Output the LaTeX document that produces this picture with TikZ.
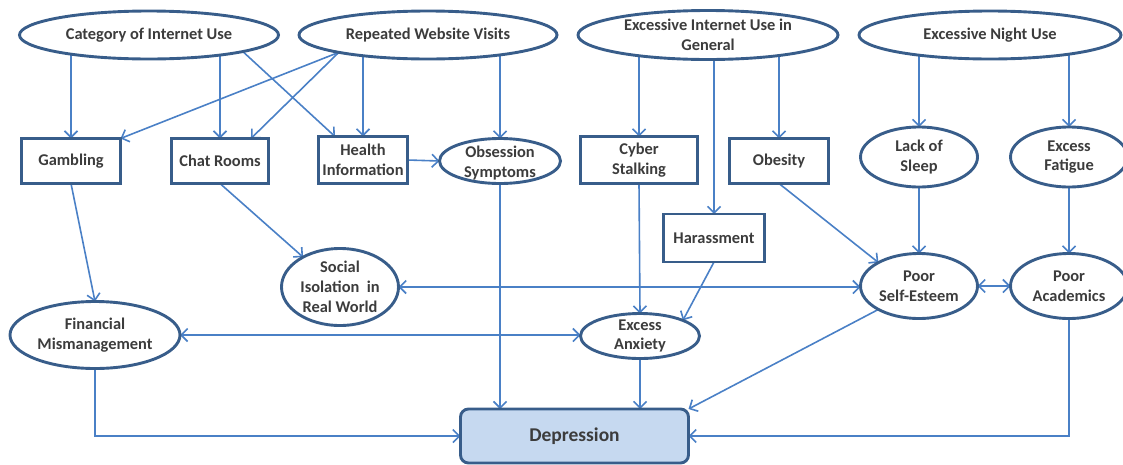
\documentclass[tikz,border=0pt]{standalone}
\usepackage{fontspec}
\setmainfont{Carlito}
\usetikzlibrary{shapes.geometric,arrows.meta,backgrounds}

\definecolor{edgeblue}{HTML}{4A80C6}
\definecolor{rimblue}{HTML}{385D8A}
\definecolor{depfill}{HTML}{C6D9F0}
\definecolor{inkgray}{HTML}{3C3C3C}

\tikzset{
  txt/.style={align=center, text=inkgray, font=\fontsize{16.4}{19.8}\selectfont\bfseries, inner sep=0pt},
  base/.style={draw=rimblue, line width=2.9pt, fill=white, inner sep=0pt, outer sep=0pt},
  oval/.style={base, ellipse},
  box/.style={base, rectangle},
  tip/.style={Straight Barb[length=6.5pt,width=13pt,line width=1.6pt]},
  conn/.style={draw=edgeblue, line width=1.6pt, -{Straight Barb[length=6.5pt,width=13pt,line width=1.6pt]}},
  dconn/.style={draw=edgeblue, line width=1.6pt,
    {Straight Barb[length=6.5pt,width=13pt,line width=1.6pt]}-{Straight Barb[length=6.5pt,width=13pt,line width=1.6pt]}},
}

\begin{document}
\begin{tikzpicture}[x=1pt,y=-1pt]
\useasboundingbox (0,0) rectangle (1123,464);

% top row: causes
\node[oval, minimum width=259, minimum height=48, label={[txt]center:Category of Internet Use}] (cat) at (149,35) {};
\node[oval, minimum width=258, minimum height=48, label={[txt]center:Repeated Website Visits}] (rep) at (428,35) {};
\node[oval, minimum width=260, minimum height=49, label={[txt]center:Excessive Internet Use in\\General}] (eiu) at (708,35) {};
\node[oval, minimum width=262, minimum height=48, label={[txt]center:Excessive Night Use}] (ngt) at (990,35) {};

% second row
\node[box, minimum width=99, minimum height=45, label={[txt]center:Gambling}] (gam) at (71,161) {};
\node[box, minimum width=97, minimum height=45, label={[txt]center:Chat Rooms}] (chat) at (220,161) {};
\node[box, minimum width=89, minimum height=47, label={[txt]center:Health\\Information}] (hlth) at (363,160) {};
\node[oval, minimum width=121, minimum height=45, label={[txt, yshift=-2pt]center:Obsession\\Symptoms}] (obs) at (500,161) {};
\node[box, minimum width=117, minimum height=47, label={[txt]center:Cyber\\Stalking}] (cyb) at (639,160) {};
\node[box, minimum width=99, minimum height=45, label={[txt]center:Obesity}] (obe) at (779,161) {};
\node[oval, minimum width=117, minimum height=60, label={[txt]center:Lack of\\Sleep}] (lack) at (919,157) {};
\node[oval, minimum width=117, minimum height=60, label={[txt]center:Excess\\Fatigue}] (fat) at (1069,157) {};

% middle row
\node[box, minimum width=101, minimum height=48, label={[txt]center:Harassment}] (har) at (714,238) {};
\node[oval, minimum width=117, minimum height=77, label={[txt]center:Social\\Isolation~~in\\Real World}] (soc) at (340,287) {};
\node[oval, minimum width=117, minimum height=65, label={[txt]center:Poor\\Self-Esteem}] (pse) at (919,286) {};
\node[oval, minimum width=117, minimum height=65, label={[txt]center:Poor\\Academics}] (pa) at (1069,286) {};
\node[oval, minimum width=170, minimum height=67, label={[txt]center:Financial\\Mismanagement}] (fin) at (95,335) {};
\node[oval, minimum width=119, minimum height=45, label={[txt]center:Excess\\Anxiety}] (anx) at (640,336) {};

% outcome
\node[base, fill=depfill, rounded corners=8pt, minimum width=228, minimum height=54,
      label={[txt, font=\fontsize{19.5}{23}\selectfont\bfseries]center:Depression}] (dep) at (574.5,436) {};

\begin{scope}[on background layer]
  % from the top row
  \draw[conn] (gam |- cat) -- (gam.north);
  \draw[conn] (chat |- cat) -- (chat.north);
  \draw[conn] (cat.-10.6) -- (hlth.140);
  \draw[conn] (rep.191) -- (gam.north east);
  \draw[conn] (rep.191) -- (chat.36.9);
  \draw[conn] (hlth |- rep) -- (hlth.north);
  \draw[conn] (obs |- rep) -- (obs.north);
  \draw[conn] (cyb |- eiu) -- (cyb.north);
  \draw[conn] (har |- eiu) -- (har.north);
  \draw[conn] (obe |- eiu) -- (obe.north);
  \draw[conn] (lack |- ngt) -- (lack.north);
  \draw[conn] (fat |- ngt) -- (fat.north);
  % second row onwards
  \draw[conn] (hlth.east) -- (obs.west);
  \draw[conn] (gam.south) -- (fin.north);
  \draw[conn] (chat.south) -- (soc.141);
  \draw[conn] (cyb.south) -- (anx.north);
  \draw[conn] (har.south) -- (anx.20);
  \draw[conn] (obe.south) -- (pse.150);
  \draw[conn] (lack.south) -- (pse.north);
  \draw[conn] (fat.south) -- (pa.north);
  % two-way links
  \draw[dconn] (soc.east) -- (soc.east -| pse.west);
  \draw[dconn] (fin.east) -- (fin.east -| anx.west);
  \draw[dconn] (pse.east) -- (pa.west);
  % into depression
  \draw[conn] (obs.south) -- (obs.south |- dep.north);
  \draw[conn] (anx.south) -- (anx.south |- dep.north);
  \draw[conn] (pse.210) -- (dep.north east);
  \draw[conn] (fin.south) |- (dep.west);
  \draw[conn] (pa.south) |- (dep.east);
\end{scope}
\end{tikzpicture}
\end{document}
